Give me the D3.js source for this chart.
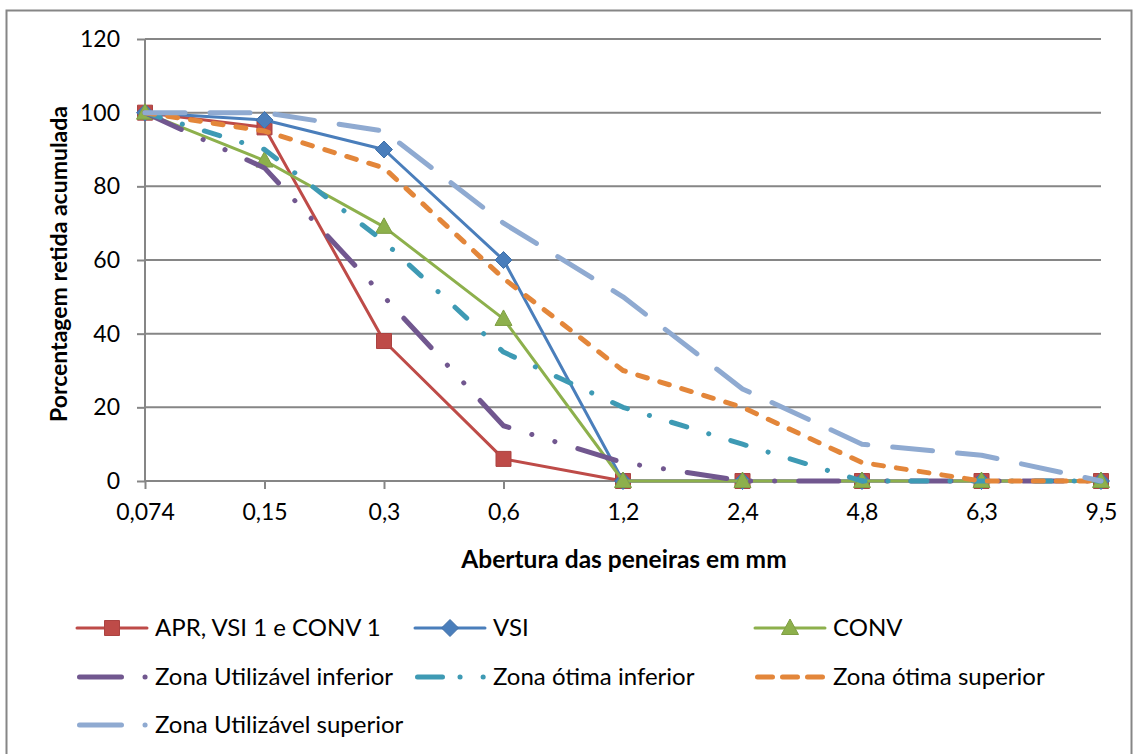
<!DOCTYPE html>
<html>
<head>
<meta charset="utf-8">
<script src="https://cdn.jsdelivr.net/npm/d3@7"></script>
<style>
  body { margin: 0; background: #fff; }
  svg text { font-family: Lato, "Noto Sans", sans-serif; fill: #000; }
</style>
</head>
<body>
<div id="chart"></div>
<script>
const FRAME_WIDTH = 1134;
const FRAME_HEIGHT = 754;
const PLOT = {left: 145, right: 1101, top: 39, bottom: 481};

// peneiras (mm)
const categories = ["0,074", "0,15", "0,3", "0,6", "1,2", "2,4", "4,8", "6,3", "9,5"];
const yTicks = [0, 20, 40, 60, 80, 100, 120];

const aprVsi1Conv1 = [100, 96, 38, 6, 0, 0, 0, 0, 0];
const vsi = [100, 98, 90, 60, 0, 0, 0, 0, 0];
const conv = [100, 87, 69, 44, 0, 0, 0, 0, 0];
const zonaUtilInf = [100, 85, 50, 15, 5, 0, 0, 0, 0];
const zonaOtimaInf = [100, 90, 65, 35, 20, 10, 0, 0, 0];
const zonaOtimaSup = [100, 95, 85, 55, 30, 20, 5, 0, 0];
const zonaUtilSup = [100, 100, 95, 70, 50, 25, 10, 7, 0];

const seriesNames = ["APR, VSI 1 e CONV 1", "VSI", "CONV",
  "Zona Utilizável inferior", "Zona ótima inferior", "Zona ótima superior", "Zona Utilizável superior"];

const SERIES = [
  {name: seriesNames[0], values: aprVsi1Conv1, color: "#BE4B48", width: 3, dash: null, marker: "square"},
  {name: seriesNames[1], values: vsi, color: "#4A7EBB", width: 3, dash: null, marker: "diamond"},
  {name: seriesNames[2], values: conv, color: "#8DB04C", width: 3, dash: null, marker: "triangle"},
  {name: seriesNames[3], values: zonaUtilInf, color: "#71578F", width: 5, dash: "40,24,0.1,24,0.1,24", legDash: "42,23.5,0.1,100"},
  {name: seriesNames[4], values: zonaOtimaInf, color: "#3E9AB4", width: 5, dash: "16,23,0.1,23", legDash: "25,17.5,0.1,23,0.1,100"},
  {name: seriesNames[5], values: zonaOtimaSup, color: "#E3863A", width: 5, dash: "10,13", legDash: "15,10"},
  {name: seriesNames[6], values: zonaUtilSup, color: "#8FAAD1", width: 5, dash: "40,25", legDash: "42,23.5,0.1,100"}
];

const svg = d3.select("#chart")
  .append("svg")
    .attr("width", FRAME_WIDTH)
    .attr("height", FRAME_HEIGHT);

// moldura externa
svg.append("rect")
  .attr("x", 6.5).attr("y", 10.5)
  .attr("width", 1125).attr("height", 770)
  .attr("fill", "none")
  .attr("stroke", "#868686")
  .attr("stroke-width", 2);

const X_SCALE = d3.scalePoint()
  .domain(categories)
  .range([PLOT.left, PLOT.right]);

const Y_SCALE = d3.scaleLinear()
  .domain([0, 120])
  .range([PLOT.bottom, PLOT.top]);

// grade horizontal
svg.append("g")
  .selectAll("line")
  .data(yTicks.filter(d => d > 0))
  .enter()
  .append("line")
    .attr("x1", PLOT.left).attr("x2", PLOT.right)
    .attr("y1", d => Y_SCALE(d)).attr("y2", d => Y_SCALE(d))
    .attr("stroke", "#868686")
    .attr("stroke-width", 2);

// eixo Y
const yAxis = svg.append("g")
  .attr("transform", "translate(" + PLOT.left + ",0)")
  .call(d3.axisLeft(Y_SCALE).tickValues(yTicks).tickSize(8).tickPadding(17));
yAxis.selectAll("line, path").attr("stroke", "#868686").attr("stroke-width", 2);
yAxis.select(".domain").attr("d", "M0," + PLOT.top + "V" + PLOT.bottom);
yAxis.selectAll("text").attr("font-size", "23px").attr("font-family", "Lato, sans-serif");

// eixo X
const xAxis = svg.append("g")
  .attr("transform", "translate(0," + PLOT.bottom + ")")
  .call(d3.axisBottom(X_SCALE).tickSize(8).tickPadding(15));
xAxis.selectAll("line, path").attr("stroke", "#868686").attr("stroke-width", 2);
xAxis.select(".domain").attr("d", "M" + PLOT.left + ",0H" + PLOT.right);
xAxis.selectAll("text").attr("font-size", "23px").attr("font-family", "Lato, sans-serif");

// títulos dos eixos
svg.append("text")
  .attr("transform", "translate(67," + 264 + ") rotate(-90)")
  .attr("text-anchor", "middle")
  .attr("font-size", "23px")
  .attr("font-weight", "bold")
  .text("Porcentagem retida acumulada");

svg.append("text")
  .attr("x", 624).attr("y", 568)
  .attr("text-anchor", "middle")
  .attr("font-size", "24.5px")
  .attr("font-weight", "bold")
  .text("Abertura das peneiras em mm");

function markerPath(type) {
  if (type === "square") return "M-7.5,-7.5H7.5V7.5H-7.5Z";
  if (type === "diamond") return "M0,-8.5L8.5,0L0,8.5L-8.5,0Z";
  return "M0,-9L8.5,6.5H-8.5Z";
}

const line = d3.line()
  .x((d, i) => X_SCALE(categories[i]))
  .y(d => Y_SCALE(d));

SERIES.forEach((s) => {
  svg.append("path")
    .datum(s.values)
    .attr("d", line)
    .attr("fill", "none")
    .attr("stroke", s.color)
    .attr("stroke-width", s.width)
    .attr("stroke-linejoin", "round")
    .attr("stroke-linecap", s.dash ? "round" : "butt")
    .attr("stroke-dasharray", s.dash);

  if (s.marker) {
    svg.append("g")
      .selectAll("path")
      .data(s.values)
      .enter()
      .append("path")
        .attr("transform", (d, i) => "translate(" + X_SCALE(categories[i]) + "," + Y_SCALE(d) + ")")
        .attr("d", markerPath(s.marker))
        .attr("fill", s.color)
        .attr("stroke", d3.color(s.color).darker(0.3))
        .attr("stroke-width", 1)
        .attr("stroke-linejoin", "round");
  }
});

// legenda
const LEG_X = [77, 415, 755];
const LEG_Y = [628, 677, 725];

SERIES.forEach((s, i) => {
  const x0 = LEG_X[i % 3];
  const y0 = LEG_Y[Math.floor(i / 3)];
  const g = svg.append("g").attr("transform", "translate(" + x0 + "," + y0 + ")");
  if (s.dash) {
    g.append("line")
      .attr("x1", 2.5).attr("x2", 70)
      .attr("y1", 0).attr("y2", 0)
      .attr("stroke", s.color)
      .attr("stroke-width", s.width)
      .attr("stroke-linecap", "round")
      .attr("stroke-dasharray", s.legDash);
  } else {
    g.append("line")
      .attr("x1", 0).attr("x2", 70)
      .attr("y1", 0).attr("y2", 0)
      .attr("stroke", s.color)
      .attr("stroke-width", s.width)
      .attr("stroke-linecap", "round");
    g.append("path")
      .attr("transform", "translate(35,0)")
      .attr("d", markerPath(s.marker))
      .attr("fill", s.color)
      .attr("stroke", d3.color(s.color).darker(0.3))
      .attr("stroke-width", 1);
  }
  g.append("text")
    .attr("x", 78).attr("y", 0)
    .attr("dy", "0.35em")
    .attr("font-size", "24px")
    .text(s.name);
});
</script>
</body>
</html>
